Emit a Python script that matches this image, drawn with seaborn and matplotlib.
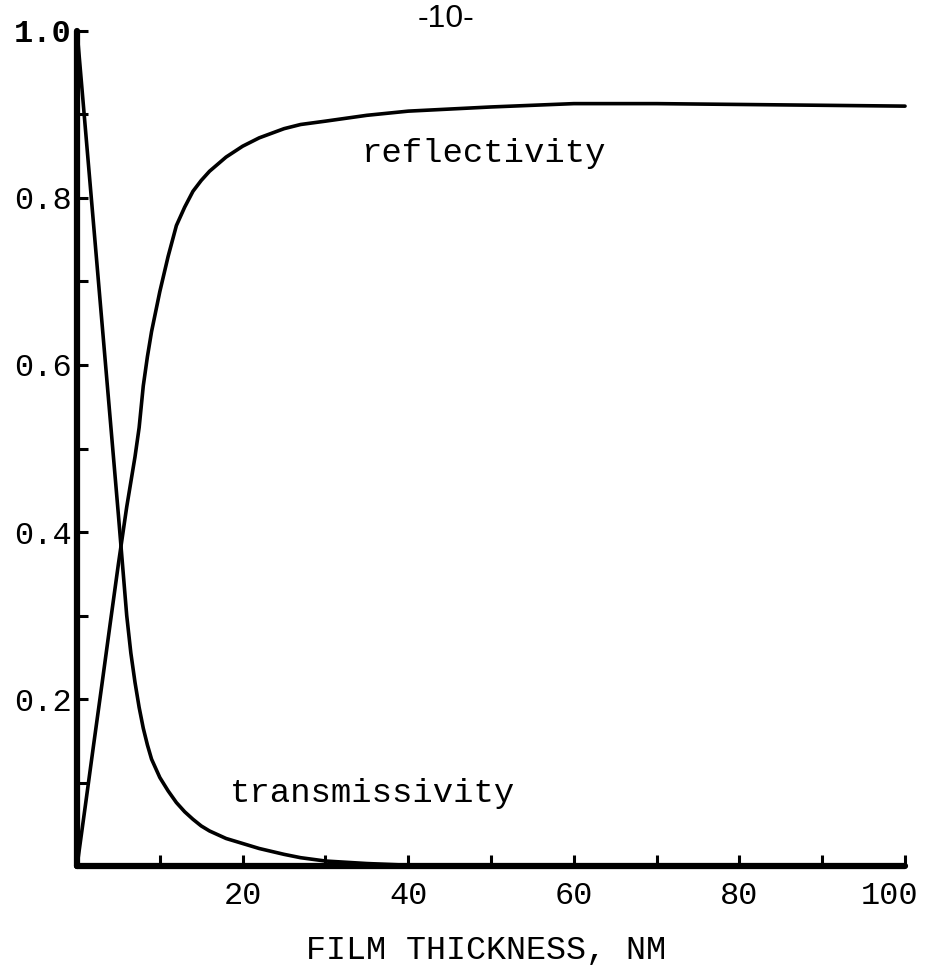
import numpy as np
import pandas as pd
import matplotlib
matplotlib.use('Agg')
import matplotlib.pyplot as plt
from matplotlib.transforms import ScaledTranslation
import seaborn as sns

# values
thickness = [0, 1, 2, 3, 4, 5, 6, 6.5, 7, 7.5, 8, 8.5, 9, 10, 11, 12, 13, 14, 15, 16, 18,
             20, 22, 25, 27, 30, 35, 40, 50, 60, 70, 80, 90, 100]
reflectivity = [0.0, 0.072, 0.145, 0.217, 0.29, 0.362, 0.43, 0.46, 0.49, 0.525, 0.575, 0.61, 0.64,
                0.688, 0.73, 0.767, 0.789, 0.808, 0.821, 0.832, 0.849, 0.862, 0.872, 0.883, 0.888,
                0.892, 0.899, 0.904, 0.909, 0.913, 0.913, 0.912, 0.911, 0.910]
transmissivity = [1.0, 0.884, 0.768, 0.652, 0.536, 0.42, 0.30, 0.255, 0.22, 0.19, 0.165, 0.145, 0.128,
                  0.106, 0.09, 0.076, 0.065, 0.056, 0.048, 0.042, 0.033, 0.027, 0.021, 0.014, 0.01,
                  0.006, 0.003, 0.001, 0.0, 0.0, 0.0, 0.0, 0.0, 0.0]

x_ticks = [10, 20, 30, 40, 50, 60, 70, 80, 90, 100]
x_labels = ['', '20', '', '40', '', '60', '', '80', '', '100']
y_ticks = [0.1, 0.2, 0.3, 0.4, 0.5, 0.6, 0.7, 0.8, 0.9, 1.0]
y_labels = ['', '0.2', '', '0.4', '', '0.6', '', '0.8', '', '1.0']

sns.set_style('white')
plt.rcParams['font.family'] = ['Liberation Mono', 'DejaVu Sans Mono']
plt.rcParams['text.color'] = 'black'
plt.rcParams['axes.labelcolor'] = 'black'

df = pd.DataFrame({
    'thickness': thickness + thickness,
    'value': reflectivity + transmissivity,
    'curve': ['reflectivity'] * len(thickness) + ['transmissivity'] * len(thickness),
})

fig = plt.figure(figsize=(9.27, 9.71), dpi=100)
ax = fig.add_axes([0.0831, 0.1081, 0.8932, 0.8600])

sns.lineplot(data=df, x='thickness', y='value', hue='curve',
             palette={'reflectivity': 'black', 'transmissivity': 'black'},
             linewidth=2.6, legend=False, ax=ax)
for line in ax.lines:
    line.set_clip_on(False)
    line.set_solid_capstyle('round')
    line.set_solid_joinstyle('round')

ax.set_xlim(0, 100)
ax.set_ylim(0, 1.0)

sns.despine(ax=ax)
for side in ['left', 'bottom']:
    ax.spines[side].set_linewidth(4.5)
    ax.spines[side].set_color('black')
    ax.spines[side].set_capstyle('round')
ax.spines['left'].set_bounds(0, 1.0)
ax.spines['bottom'].set_bounds(0, 100)

ax.set_xticks(x_ticks, labels=x_labels)
ax.set_yticks(y_ticks, labels=y_labels)
# seaborn's white style switches the tick marks off, turn them back on
ax.tick_params(axis='both', direction='in', length=8, width=2.2, colors='black', labelsize=23,
               bottom=True, left=True)
ax.tick_params(axis='x', pad=11)
ax.tick_params(axis='y', pad=4)
ax.get_yticklabels()[-1].set_fontweight('bold')

# the last label sits a little left of its tick in the original
last = ax.get_xticklabels()[-1]
last.set_transform(last.get_transform() + ScaledTranslation(-0.15, 0, fig.dpi_scale_trans))

ax.set_xlabel('FILM THICKNESS, NM', fontsize=24, va='center')
ax.xaxis.set_label_coords(0.494, -0.1006)
ax.set_ylabel('')

ax.text(34.4, 0.843, 'reflectivity', fontsize=24.5, ha='left', va='baseline')
ax.text(18.5, 0.077, 'transmissivity', fontsize=24.5, ha='left', va='baseline')

fig.text(446 / 927, 1 - 19 / 971, '-10-', ha='center', va='center', fontsize=23,
         family=['Liberation Sans', 'DejaVu Sans'])

fig.savefig('out.png', dpi=100, facecolor='white')
plt.close(fig)
